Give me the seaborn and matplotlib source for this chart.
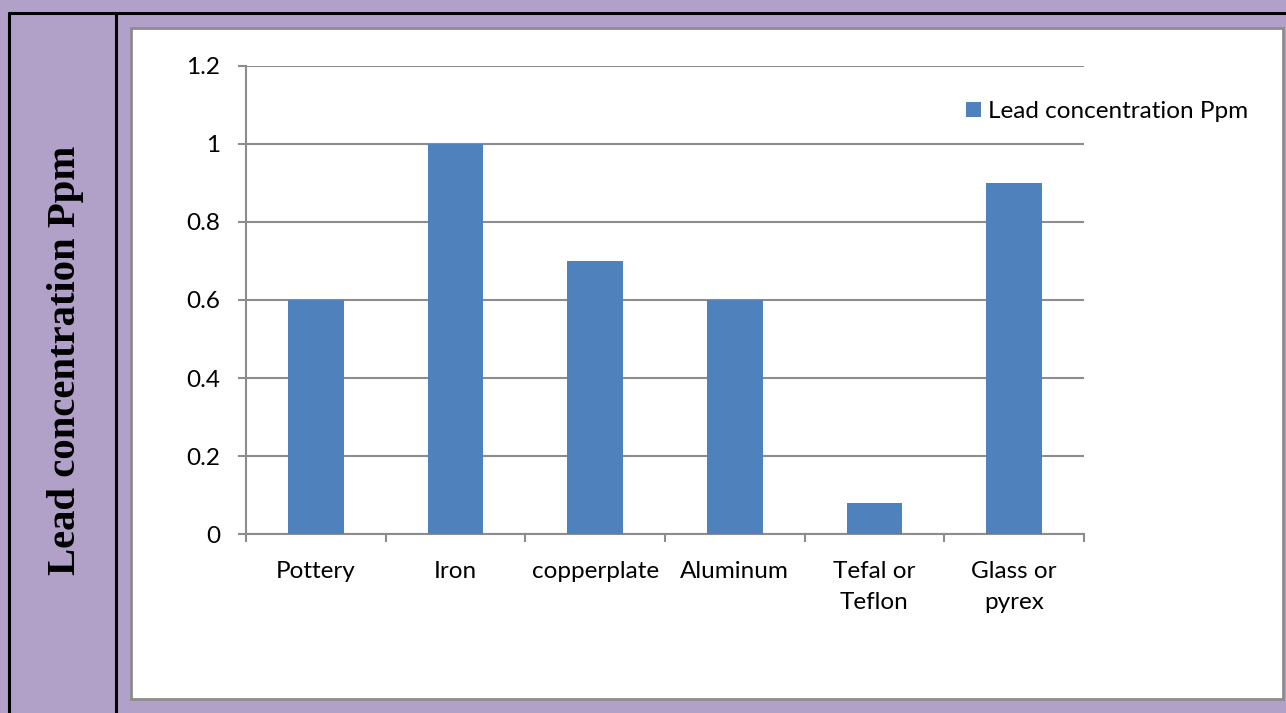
import matplotlib
matplotlib.use("Agg")
import matplotlib.pyplot as plt
import seaborn as sns
import pandas as pd
from matplotlib.lines import Line2D
from matplotlib.patches import Rectangle

categories = ["Pottery", "Iron", "copperplate", "Aluminum", "Tefal or\nTeflon", "Glass or\npyrex"]
values = [0.6, 1.0, 0.7, 0.6, 0.08, 0.9]
series_name = "Lead concentration Ppm"
yticks = [0, 0.2, 0.4, 0.6, 0.8, 1.0, 1.2]
ytick_labels = ["0", "0.2", "0.4", "0.6", "0.8", "1", "1.2"]

W, H = 1286, 713
sns.set_style("white")
plt.rcParams['font.family'] = ['Lato', 'DejaVu Sans']
plt.rcParams['text.color'] = 'black'
plt.rcParams['xtick.color'] = 'black'
plt.rcParams['ytick.color'] = 'black'

fig = plt.figure(figsize=(W / 100, H / 100), dpi=100)
fig.patch.set_facecolor("#B1A0C7")

def fx(px):
    return px / W

def fy(py):
    return 1 - py / H

# table borders
for (x0, y0, x1, y1) in [(8.5, 12.5, 1286, 12.5), (8.5, 12.5, 8.5, 713), (116, 12.5, 116, 713)]:
    fig.add_artist(Line2D([fx(x0), fx(x1)], [fy(y0), fy(y1)], color="black", lw=2.2, zorder=-1))

# inner chart box
fig.add_artist(Rectangle((fx(131), fy(699)), fx(1283) - fx(131), fy(28) - fy(699),
                         facecolor="white", edgecolor="#8C8C8C", lw=2, zorder=-2))

ax = fig.add_axes([fx(246), fy(534.3), fx(1084) - fx(246), fy(65.7) - fy(534.3)])
ax.set_facecolor("none")
ax.set_zorder(1)

df = pd.DataFrame({"category": categories, "value": values})
sns.barplot(data=df, x="category", y="value", color="#4F81BD", saturation=1,
            width=0.4, ax=ax, label=series_name, zorder=3, linewidth=0)

ax.set_xlim(-0.5, len(categories) - 0.5)
ax.set_ylim(0, 1.2)
ax.set_yticks(yticks)
ax.set_yticklabels(ytick_labels)
ax.set_xlabel("")
ax.set_ylabel("")
ax.yaxis.grid(True, color="#8C8C8C", lw=1.5, zorder=0)
ax.set_axisbelow(True)
for s in ["top", "right"]:
    ax.spines[s].set_visible(False)
for s in ["left", "bottom"]:
    ax.spines[s].set_color("#8C8C8C")
    ax.spines[s].set_linewidth(1.5)

ax.tick_params(axis="y", length=5.8, width=1.5, color="#8C8C8C", labelcolor="black",
               labelsize=17.5, pad=13, left=True)
ax.tick_params(axis="x", which="major", length=0, labelsize=17.5, labelcolor="black", pad=19.5)
ax.set_xticks([i - 0.5 for i in range(len(categories) + 1)], minor=True)
ax.tick_params(axis="x", which="minor", length=5.8, width=1.5, color="#8C8C8C", bottom=True)
for lbl in ax.get_xticklabels():
    lbl.set_linespacing(1.58)

leg = ax.legend(loc="upper left", bbox_to_anchor=((966 - 246) / (1084 - 246), (534.3 - 101) / (534.3 - 65.7)),
                frameon=False, fontsize=17.5, handlelength=0.62, handleheight=0.62, handletextpad=0.3,
                borderaxespad=0, borderpad=0)

fig.text(fx(66), fy(360), "Lead concentration Ppm", rotation=90, ha="center", va="center",
         family=["Liberation Serif"], fontweight="bold", fontsize=29.3, color="black")

fig.savefig("out.png", dpi=100, facecolor=fig.get_facecolor())
